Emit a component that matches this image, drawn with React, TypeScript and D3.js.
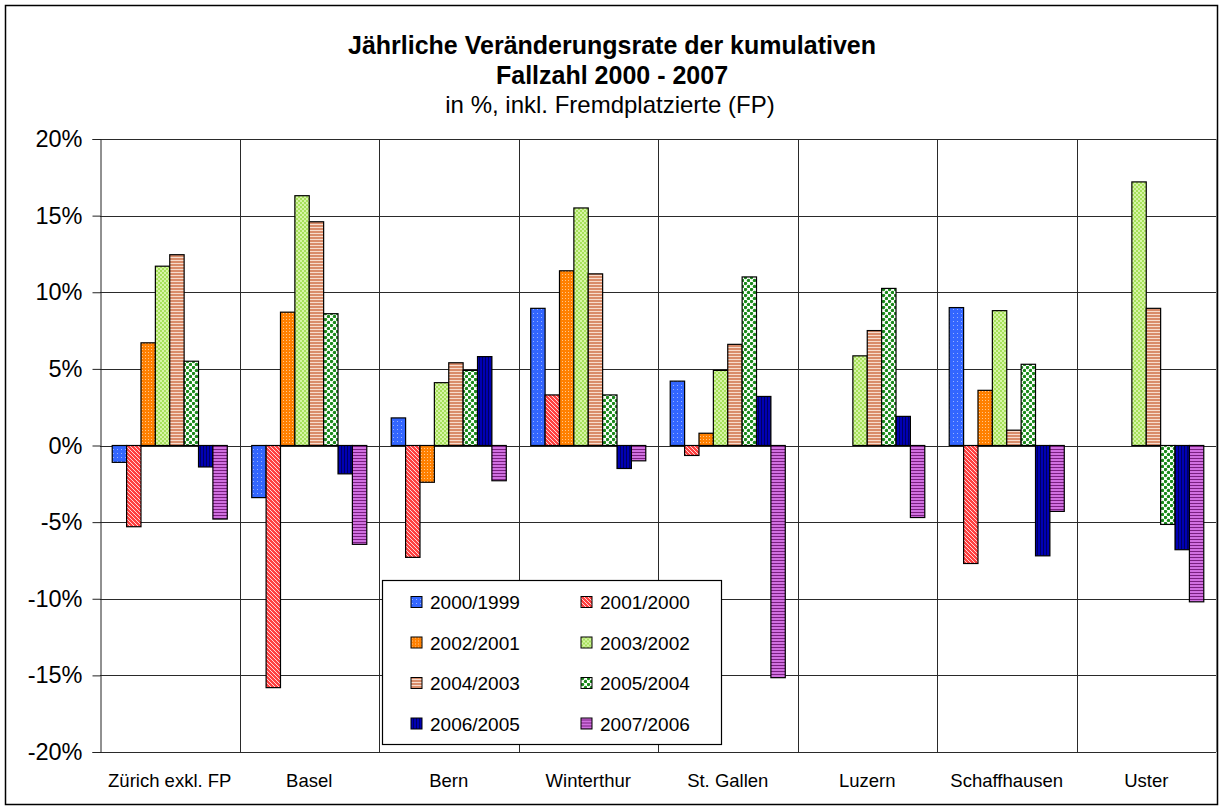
import { useEffect, useRef } from "react";
import * as d3 from "d3";

const cities = ["Zürich exkl. FP", "Basel", "Bern", "Winterthur", "St. Gallen", "Luzern", "Schaffhausen", "Uster"];
const periods = ["2000/1999", "2001/2000", "2002/2001", "2003/2002", "2004/2003", "2005/2004", "2006/2005", "2007/2006"];

// one array per period, in city order (null = no bar)
const v2000 = [-1.1, -3.4, 1.8, 8.95, 4.2, null, 9.0, null];
const v2001 = [-5.3, -15.8, -7.3, 3.3, -0.65, null, -7.7, null];
const v2002 = [6.7, 8.7, -2.4, 11.4, 0.8, null, 3.6, null];
const v2003 = [11.7, 16.3, 4.1, 15.5, 4.9, 5.85, 8.8, 17.2];
const v2004 = [12.45, 14.6, 5.4, 11.2, 6.6, 7.5, 1.0, 8.95];
const v2005 = [5.5, 8.6, 4.9, 3.3, 11.0, 10.25, 5.3, -5.15];
const v2006 = [-1.4, -1.85, 5.8, -1.5, 3.2, 1.9, -7.2, -6.8];
const v2007 = [-4.8, -6.45, -2.3, -1.0, -15.15, -4.7, -4.3, -10.2];
const seriesValues = [v2000, v2001, v2002, v2003, v2004, v2005, v2006, v2007];

const yTicks = [-20, -15, -10, -5, 0, 5, 10, 15, 20];

const FONT = "'Liberation Sans', Arial, sans-serif";

export default function App() {
  const ref = useRef<SVGSVGElement | null>(null);

  useEffect(() => {
    const width = 1223;
    const height = 809;
    const margin = { top: 139, right: 7, bottom: 57, left: 100 };

    const svg = d3.select(ref.current);
    svg.selectAll("*").remove();

    // patterns
    const defs = svg.append("defs");
    const pat = (id: string, w: number, h: number) =>
      defs.append("pattern").attr("id", id).attr("patternUnits", "userSpaceOnUse").attr("width", w).attr("height", h);

    let p = pat("p0", 4, 4);
    p.append("rect").attr("width", 4).attr("height", 4).attr("fill", "#3366ff");
    p.append("rect").attr("x", 1).attr("y", 1).attr("width", 1).attr("height", 1).attr("fill", "#99b3ff");

    p = pat("p1", 4, 4);
    p.append("rect").attr("width", 4).attr("height", 4).attr("fill", "#ff4040");
    p.append("path").attr("d", "M-1,-1L5,5M-1,3L1,5M3,-1L5,1").attr("stroke", "#ffd8d8").attr("stroke-width", 1);

    p = pat("p2", 3, 3);
    p.append("rect").attr("width", 3).attr("height", 3).attr("fill", "#ff8000");
    p.append("rect").attr("x", 1).attr("y", 1).attr("width", 1).attr("height", 1).attr("fill", "#ffc68c");

    p = pat("p3", 4, 4);
    p.append("rect").attr("width", 4).attr("height", 4).attr("fill", "#a6e05a");
    p.append("rect").attr("width", 2).attr("height", 2).attr("fill", "#d6f5a6");
    p.append("rect").attr("x", 2).attr("y", 2).attr("width", 2).attr("height", 2).attr("fill", "#d6f5a6");

    p = pat("p4", 3, 3);
    p.append("rect").attr("width", 3).attr("height", 3).attr("fill", "#d98c6a");
    p.append("rect").attr("y", 2).attr("width", 3).attr("height", 1).attr("fill", "#f7dccd");

    p = pat("p5", 6, 6);
    p.append("rect").attr("width", 6).attr("height", 6).attr("fill", "#ffffff");
    p.append("circle").attr("cx", 1.5).attr("cy", 1.5).attr("r", 1.7).attr("fill", "#1a8a1a");
    p.append("circle").attr("cx", 4.5).attr("cy", 4.5).attr("r", 1.7).attr("fill", "#1a8a1a");

    p = pat("p6", 3, 3);
    p.append("rect").attr("width", 3).attr("height", 3).attr("fill", "#0000b4");
    p.append("rect").attr("x", 2).attr("width", 1).attr("height", 3).attr("fill", "#000060");

    p = pat("p7", 3, 3);
    p.append("rect").attr("width", 3).attr("height", 3).attr("fill", "#d070e0");
    p.append("rect").attr("y", 2).attr("width", 3).attr("height", 1).attr("fill", "#7a1f80");

    // outer frame
    svg
      .append("rect")
      .attr("x", 5.5)
      .attr("y", 5.5)
      .attr("width", width - 11)
      .attr("height", height - 10)
      .attr("fill", "#fff")
      .attr("stroke", "#000")
      .attr("stroke-width", 1.5);

    // title
    const title = svg.append("text").attr("text-anchor", "middle").attr("font-family", FONT).attr("fill", "#000");
    title
      .append("tspan")
      .attr("x", 612)
      .attr("y", 54)
      .attr("font-size", 25)
      .attr("font-weight", "bold")
      .text("Jährliche Veränderungsrate der kumulativen");
    title
      .append("tspan")
      .attr("x", 612)
      .attr("y", 84)
      .attr("font-size", 25)
      .attr("font-weight", "bold")
      .text("Fallzahl 2000 - 2007");
    title
      .append("tspan")
      .attr("x", 610)
      .attr("y", 113)
      .attr("font-size", 24)
      .text("in %, inkl. Fremdplatzierte (FP)");

    const x0 = d3
      .scaleBand()
      .domain(cities)
      .range([margin.left, width - margin.right])
      .padding(0);

    const x1 = d3
      .scaleBand()
      .domain(periods)
      .range([0, x0.bandwidth()])
      .paddingInner(0)
      .paddingOuter(0.85);

    const y = d3
      .scaleLinear()
      .domain([-20, 20])
      .range([height - margin.bottom, margin.top]);

    // grid
    const grid = svg.append("g").attr("stroke", "#2a2a2a").attr("stroke-width", 1);
    grid
      .selectAll("line.h")
      .data(yTicks)
      .join("line")
      .attr("class", "h")
      .attr("x1", margin.left)
      .attr("x2", width - margin.right)
      .attr("y1", (d) => Math.round(y(d)) + 0.5)
      .attr("y2", (d) => Math.round(y(d)) + 0.5);
    grid
      .selectAll("line.v")
      .data(cities.slice(1))
      .join("line")
      .attr("class", "v")
      .attr("x1", (d) => Math.round(x0(d)!) + 0.5)
      .attr("x2", (d) => Math.round(x0(d)!) + 0.5)
      .attr("y1", y(20))
      .attr("y2", y(-20));
    svg
      .append("line")
      .attr("x1", width - margin.right + 0.5)
      .attr("x2", width - margin.right + 0.5)
      .attr("y1", y(20))
      .attr("y2", y(-20))
      .attr("stroke", "#777");

    // y axis
    svg
      .append("g")
      .attr("transform", `translate(${margin.left + 0.5},0)`)
      .call(
        d3
          .axisLeft(y)
          .tickValues(yTicks)
          .tickSize(8)
          .tickPadding(10)
          .tickFormat((d) => `${d}%`)
      )
      .call((g) => g.selectAll("path,line").attr("stroke", "#222"))
      .call((g) =>
        g.selectAll("text").attr("font-family", FONT).attr("font-size", 23.5).attr("fill", "#000")
      );

    // x labels
    svg
      .append("g")
      .selectAll("text")
      .data(cities)
      .join("text")
      .attr("x", (d) => x0(d)! + x0.bandwidth() / 2)
      .attr("y", 787)
      .attr("text-anchor", "middle")
      .attr("font-family", FONT)
      .attr("font-size", 18.5)
      .attr("fill", "#000")
      .text((d) => d);

    // bars
    const rows = cities.flatMap((c, ci) =>
      periods.map((pName, si) => ({ city: c, period: pName, si, value: seriesValues[si][ci] }))
    );
    svg
      .append("g")
      .selectAll("rect")
      .data(rows.filter((d) => d.value !== null))
      .join("rect")
      .attr("x", (d) => x0(d.city)! + x1(d.period)!)
      .attr("y", (d) => y(Math.max(0, d.value as number)))
      .attr("width", x1.bandwidth())
      .attr("height", (d) => Math.abs(y(d.value as number) - y(0)))
      .attr("fill", (d) => `url(#p${d.si})`)
      .attr("stroke", "#000")
      .attr("stroke-width", 1.2);

    // legend
    const lg = svg.append("g");
    lg.append("rect")
      .attr("x", 382.5)
      .attr("y", 580.5)
      .attr("width", 339)
      .attr("height", 164)
      .attr("fill", "#fff")
      .attr("stroke", "#000")
      .attr("stroke-width", 1.2);
    const items = lg
      .selectAll("g")
      .data(periods)
      .join("g")
      .attr("transform", (_, i) => `translate(${i % 2 === 0 ? 411 : 581},${602 + Math.floor(i / 2) * 40.5})`);
    items
      .append("rect")
      .attr("x", 0)
      .attr("y", -5.5)
      .attr("width", 11)
      .attr("height", 11)
      .attr("fill", (_, i) => `url(#p${i})`)
      .attr("stroke", "#000");
    items
      .append("text")
      .attr("x", 19)
      .attr("y", 7)
      .attr("font-family", FONT)
      .attr("font-size", 19)
      .attr("fill", "#000")
      .text((d) => d);
  }, []);

  return (
    <div style={{ position: "absolute", left: 0, top: 0 }}>
      <svg ref={ref} width={1223} height={809} style={{ display: "block" }} />
    </div>
  );
}
